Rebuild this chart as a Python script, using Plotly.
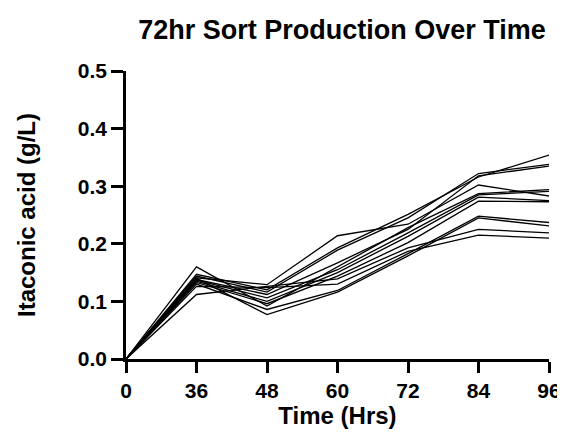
import plotly.graph_objects as go

time_labels = ["0", "36", "48", "60", "72", "84", "96"]

s1 = [0, 0.141, 0.129, 0.214, 0.234, 0.302, 0.283]
s2 = [0, 0.147, 0.120, 0.193, 0.251, 0.316, 0.354]
s3 = [0, 0.144, 0.116, 0.189, 0.245, 0.322, 0.338]
s4 = [0, 0.138, 0.112, 0.167, 0.225, 0.318, 0.335]
s5 = [0, 0.160, 0.092, 0.160, 0.228, 0.287, 0.294]
s6 = [0, 0.137, 0.106, 0.155, 0.219, 0.285, 0.291]
s7 = [0, 0.135, 0.100, 0.150, 0.213, 0.281, 0.275]
s8 = [0, 0.133, 0.096, 0.144, 0.202, 0.274, 0.273]
s9 = [0, 0.112, 0.126, 0.139, 0.193, 0.225, 0.219]
s10 = [0, 0.126, 0.124, 0.130, 0.187, 0.215, 0.210]
s11 = [0, 0.130, 0.086, 0.119, 0.183, 0.248, 0.237]
s12 = [0, 0.140, 0.077, 0.116, 0.179, 0.245, 0.231]

series = [s1, s2, s3, s4, s5, s6, s7, s8, s9, s10, s11, s12]

y_tickvals = [0.0, 0.1, 0.2, 0.3, 0.4, 0.5]
y_ticktext = ["0.0", "0.1", "0.2", "0.3", "0.4", "0.5"]

FONT = "Liberation Sans, Arial, sans-serif"

fig = go.Figure()
for s in series:
    fig.add_trace(go.Scatter(
        x=time_labels, y=s, mode="lines",
        line=dict(color="black", width=1.3),
        showlegend=False, hoverinfo="skip",
    ))

fig.update_layout(
    width=565, height=432,
    margin=dict(l=118, r=15, t=63, b=81),
    paper_bgcolor="white", plot_bgcolor="white",
    title=dict(
        text="<b>72hr Sort Production Over Time</b>",
        x=(118 + 550) / 2 / 565, xanchor="center",
        y=1 - 22 / 432, yanchor="middle",
        font=dict(family=FONT, size=27, color="black"),
    ),
    xaxis=dict(
        type="category", categoryorder="array", categoryarray=time_labels,
        range=[0, 6], showgrid=False, zeroline=False,
        showline=True, linecolor="black", linewidth=2.5,
        ticks="outside", ticklen=11, tickwidth=2.5, tickcolor="black",
        tickfont=dict(family=FONT, size=21, color="black"),
        title=dict(text="<b>Time (Hrs)</b>", font=dict(family=FONT, size=24, color="black"), standoff=5),
    ),
    yaxis=dict(
        range=[0, 0.5], tickvals=y_tickvals, ticktext=[f"<b>{t}</b>" for t in y_ticktext],
        showgrid=False, zeroline=False,
        showline=True, linecolor="black", linewidth=2.5,
        ticks="outside", ticklen=12, tickwidth=2.5, tickcolor="black",
        tickfont=dict(family=FONT, size=21, color="black"),
        title=dict(text="<b>Itaconic acid (g/L)</b>", font=dict(family=FONT, size=24, color="black"), standoff=36),
    ),
)
fig.update_xaxes(ticktext=[f"<b>{t}</b>" for t in time_labels], tickvals=time_labels)

fig.write_html("out.html")
